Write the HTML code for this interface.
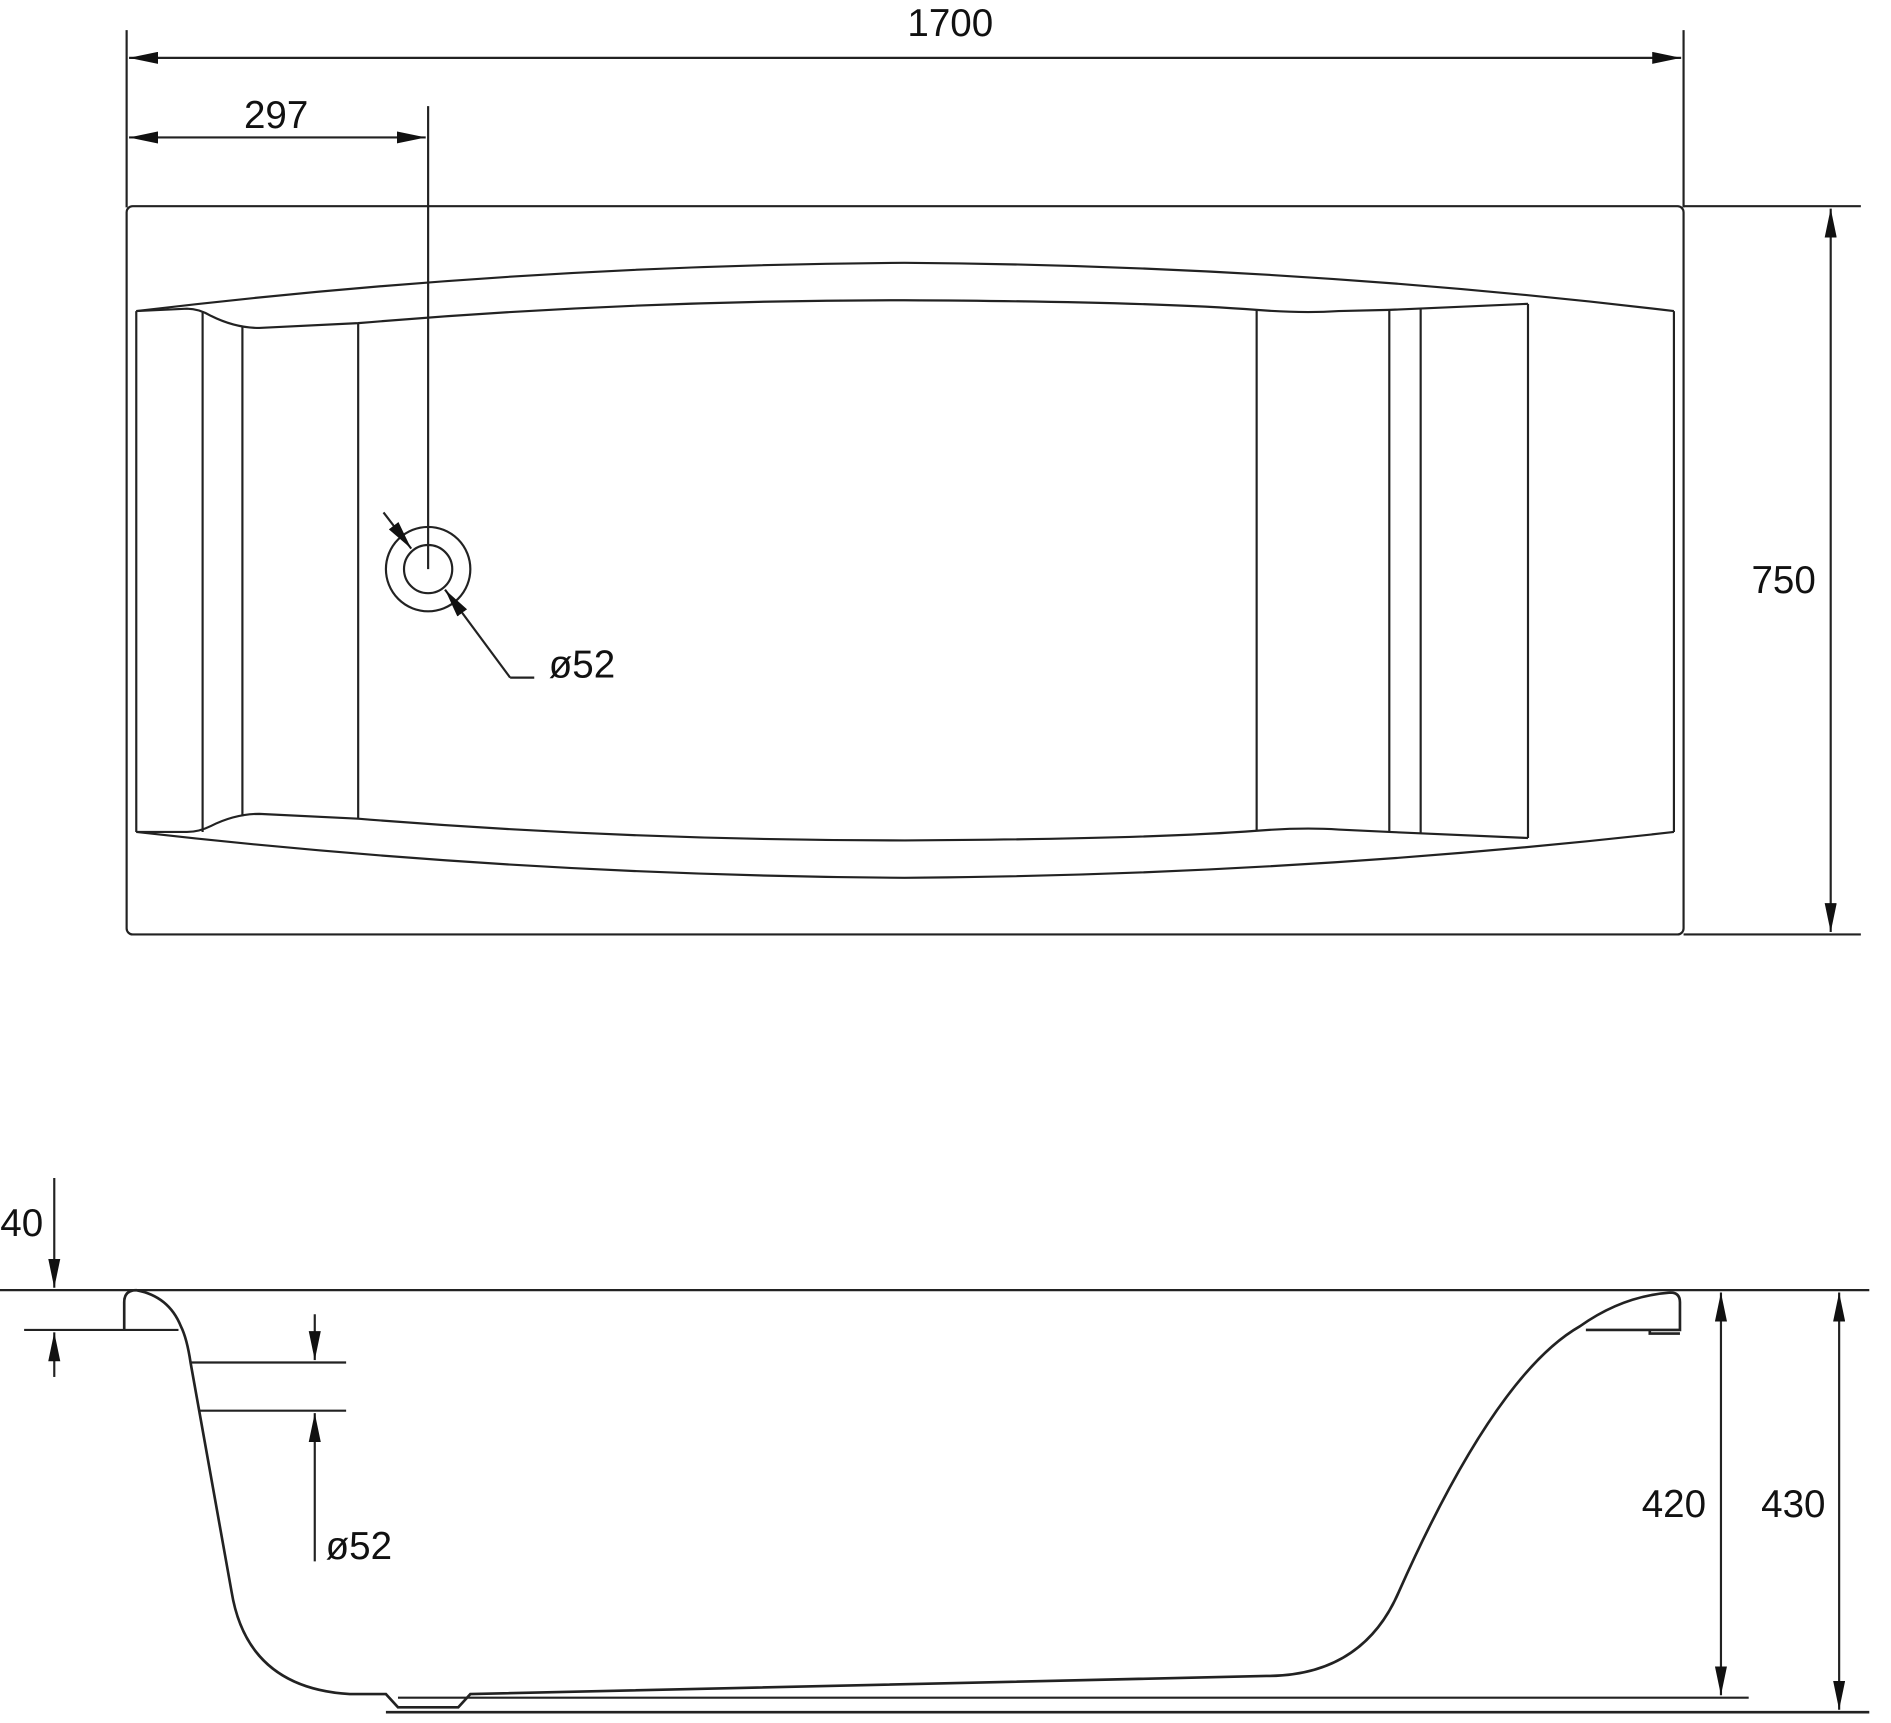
<!DOCTYPE html>
<html><head><meta charset="utf-8"><style>html,body{margin:0;padding:0;background:#fff}svg{display:block}</style></head><body>
<svg width="1891" height="1723" viewBox="0 0 1568 1429" preserveAspectRatio="none" xmlns="http://www.w3.org/2000/svg">
<defs>
<marker id="a" viewBox="0 0 24 10" refX="24" refY="5" markerWidth="24" markerHeight="10" markerUnits="userSpaceOnUse" orient="auto-start-reverse"><path d="M0,0 L24,5 L0,10 z" fill="#111"/></marker>
</defs>
<g stroke="#222" stroke-width="1.8" fill="none">
<line x1="105" y1="25" x2="105" y2="172"/>
<line x1="1396" y1="25" x2="1396" y2="172"/>
<line x1="107" y1="48" x2="1394" y2="48" marker-start="url(#a)" marker-end="url(#a)"/>
<line x1="107" y1="114" x2="353" y2="114" marker-start="url(#a)" marker-end="url(#a)"/>
<line x1="355" y1="88" x2="355" y2="472"/>
<line x1="1396" y1="171" x2="1543" y2="171"/>
<line x1="1396" y1="775" x2="1543" y2="775"/>
<line x1="1518" y1="173" x2="1518" y2="773" marker-start="url(#a)" marker-end="url(#a)"/>
<rect x="105" y="171" width="1291" height="604" rx="5"/>
<path d="M113,258 Q430,220 750,218 Q1070,220 1388,258"/>
<path d="M113,690 Q430,726 750,728 Q1070,726 1388,690"/>
<line x1="113" y1="258" x2="113" y2="690"/>
<line x1="1388" y1="258" x2="1388" y2="690"/>
<path d="M113,258 L155,256 Q165,256 175,262 Q195,272 215,272 L297,268 Q520,249 750,249 Q950,250 1042,257 Q1080,260 1110,258 L1152,257 L1267,252"/>
<path d="M113,690 L155,690 Q165,690 175,685 Q195,675 215,675 L297,679 Q520,697 750,697 Q950,696 1042,689 Q1080,686 1110,688 L1152,690 L1267,695"/>
<line x1="168" y1="258" x2="168" y2="690"/>
<line x1="201" y1="271" x2="201" y2="677"/>
<line x1="297" y1="268" x2="297" y2="679"/>
<line x1="1042" y1="257" x2="1042" y2="689"/>
<line x1="1152" y1="257" x2="1152" y2="690"/>
<line x1="1178" y1="256" x2="1178" y2="691"/>
<line x1="1267" y1="252" x2="1267" y2="695"/>
<circle cx="355" cy="472" r="35"/>
<circle cx="355" cy="472" r="20"/>
<line x1="318" y1="425" x2="341" y2="455" marker-end="url(#a)"/>
<line x1="423" y1="562" x2="369" y2="489" marker-end="url(#a)"/>
<line x1="423" y1="562" x2="443" y2="562"/>
<line x1="0" y1="1070" x2="1550" y2="1070"/>
<line x1="45" y1="977" x2="45" y2="1068" marker-end="url(#a)"/>
<line x1="45" y1="1142" x2="45" y2="1105" marker-end="url(#a)"/>
<line x1="20" y1="1103" x2="148" y2="1103"/>
<path d="M103,1103 L103,1080 Q103,1070 113,1070 Q140,1075 150,1100 Q155,1110 158,1130 L192,1320 Q205,1400 290,1405 L320,1405 L330,1416 L380,1416 L390,1405 L1050,1390 Q1130,1390 1160,1320 Q1240,1140 1310,1100 Q1345,1075 1385,1072 Q1393,1072 1393,1080 L1393,1103 L1368,1103 L1368,1106 L1393,1106 M1393,1103 L1315,1103" stroke-width="2.2"/>
<line x1="158" y1="1130" x2="287" y2="1130"/>
<line x1="165" y1="1170" x2="287" y2="1170"/>
<line x1="261" y1="1090" x2="261" y2="1128" marker-end="url(#a)"/>
<line x1="261" y1="1295" x2="261" y2="1172" marker-end="url(#a)"/>
<line x1="330" y1="1408" x2="1450" y2="1408"/>
<line x1="320" y1="1420" x2="1550" y2="1420" stroke-width="2.2"/>
<line x1="1427" y1="1072" x2="1427" y2="1406" marker-start="url(#a)" marker-end="url(#a)"/>
<line x1="1525" y1="1072" x2="1525" y2="1418" marker-start="url(#a)" marker-end="url(#a)"/>
</g>
<g font-family="'Liberation Sans',sans-serif" font-size="32" fill="#111">
<text x="788" y="30" text-anchor="middle">1700</text>
<text x="229" y="106" text-anchor="middle">297</text>
<text x="1479" y="492" text-anchor="middle">750</text>
<text x="455" y="562">ø52</text>
<text x="18" y="1025" text-anchor="middle">40</text>
<text x="270" y="1293">ø52</text>
<text x="1388" y="1258" text-anchor="middle">420</text>
<text x="1487" y="1258" text-anchor="middle">430</text>
</g>
</svg>
</body></html>
